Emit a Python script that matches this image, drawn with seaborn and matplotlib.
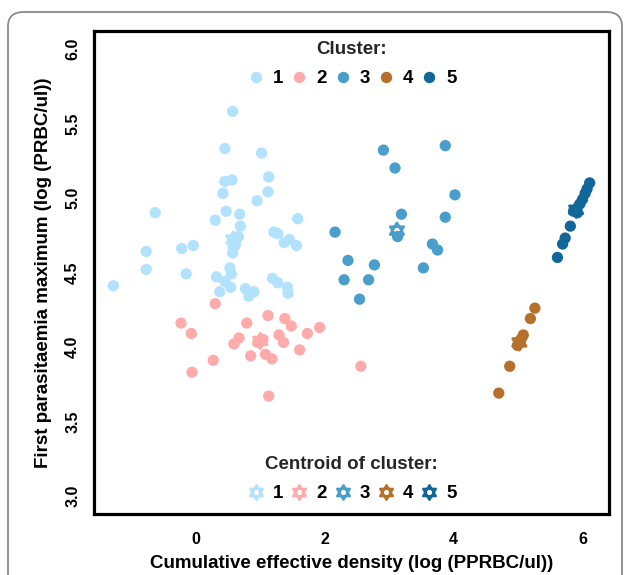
import numpy as np
import pandas as pd
import matplotlib
matplotlib.use("Agg")
import matplotlib.pyplot as plt
import seaborn as sns
from matplotlib.path import Path
from matplotlib.lines import Line2D
from matplotlib.patches import FancyBboxPatch

# ---------------- data ----------------
cluster_labels = ["1", "2", "3", "4", "5"]
cluster_colors = ["#B3E2FF", "#FFABAB", "#4A9ECB", "#B5702B", "#11679A"]

c1_x = [0.57, 0.45, 1.02, 0.45, 0.56, 1.13, 0.42, 1.12, 0.95, -0.63, 0.47, 0.68,
        0.30, 1.58, 0.69, 1.21, 1.27, 0.60, 0.66, 1.37, 1.45, 1.56, -0.22, -0.04,
        -0.77, 0.58, 0.57, 0.61, -0.77, -0.15, 0.53, 0.55, 0.32, 0.45, 0.54, -1.28,
        0.37, 0.77, 0.90, 0.82, 1.19, 1.27, 1.42, 1.43]
c1_y = [5.58, 5.33, 5.30, 5.11, 5.12, 5.14, 5.03, 5.04, 4.98, 4.90, 4.91, 4.89,
        4.85, 4.86, 4.81, 4.77, 4.76, 4.73, 4.74, 4.70, 4.72, 4.68, 4.66, 4.68,
        4.64, 4.67, 4.63, 4.68, 4.52, 4.49, 4.53, 4.49, 4.47, 4.44, 4.40, 4.41,
        4.37, 4.39, 4.37, 4.34, 4.46, 4.43, 4.40, 4.36]

c2_x = [0.30, -0.23, -0.07, 0.79, 1.12, 1.38, 1.48, 1.73, 1.92, 0.67, 0.59,
        1.29, 1.36, 0.85, 1.08, 1.18, 1.61, 0.27, -0.06, 1.13, 2.56, 0.96, 1.04]
c2_y = [4.29, 4.16, 4.09, 4.16, 4.21, 4.19, 4.14, 4.09, 4.13, 4.06, 4.02,
        4.08, 4.03, 3.94, 3.95, 3.92, 3.98, 3.91, 3.83, 3.67, 3.87, 4.03, 4.05]

c3_x = [2.91, 3.87, 3.09, 4.02, 3.19, 3.87, 2.16, 3.13, 3.67, 3.75, 2.36, 2.77,
        3.53, 2.30, 2.68, 2.54]
c3_y = [5.32, 5.35, 5.20, 5.02, 4.89, 4.87, 4.77, 4.74, 4.69, 4.65, 4.58, 4.55,
        4.53, 4.45, 4.45, 4.32]

c4_x = [5.26, 5.19, 5.08, 4.99, 4.87, 4.70, 5.04]
c4_y = [4.26, 4.19, 4.08, 4.01, 3.87, 3.69, 4.05]

c5_x = [6.11, 6.07, 6.04, 6.00, 5.96, 5.92, 5.86, 5.81, 5.73, 5.69, 5.61]
c5_y = [5.10, 5.06, 5.03, 4.99, 4.96, 4.90, 4.91, 4.81, 4.73, 4.69, 4.60]

centroid_x = [0.58, 1.00, 3.12, 5.02, 5.90]
centroid_y = [4.72, 4.04, 4.78, 4.03, 4.92]

x_ticks = [0, 2, 4, 6]
y_ticks = [3.0, 3.5, 4.0, 4.5, 5.0, 5.5, 6.0]

# ---------------- frames ----------------
xs = [c1_x, c2_x, c3_x, c4_x, c5_x]
ys = [c1_y, c2_y, c3_y, c4_y, c5_y]
points = pd.concat(
    [pd.DataFrame({"x": xv, "y": yv, "cluster": lab})
     for xv, yv, lab in zip(xs, ys, cluster_labels)],
    ignore_index=True)
centroids = pd.DataFrame({"x": centroid_x, "y": centroid_y, "cluster": cluster_labels})
palette = dict(zip(cluster_labels, cluster_colors))

# ---------------- style ----------------
sns.set_theme(style="white")
plt.rcParams["font.family"] = ["Liberation Sans", "DejaVu Sans"]
plt.rcParams["font.weight"] = "bold"

# hexagram marker (two overlapping triangles)
up = [(0, 1), (-0.866, -0.5), (0.866, -0.5), (0, 0)]
down = [(0, -1), (0.866, 0.5), (-0.866, 0.5), (0, 0)]
codes = [Path.MOVETO, Path.LINETO, Path.LINETO, Path.CLOSEPOLY] * 2
star = Path(up + down, codes)

fig = plt.figure(figsize=(6.30, 5.75), dpi=100)
ax = fig.add_axes([94 / 630, 1 - 514 / 575, (609 - 94) / 630, (514 - 31) / 575])

sns.scatterplot(data=points, x="x", y="y", hue="cluster", palette=palette,
                hue_order=cluster_labels, s=66, linewidth=0, legend=False, ax=ax)
n_before = len(ax.collections)
sns.scatterplot(data=centroids, x="x", y="y", hue="cluster", palette=palette,
                hue_order=cluster_labels, marker=star, s=125, legend=False, ax=ax)
cc = ax.collections[n_before]
cc.set_edgecolors(cc.get_facecolors())
cc.set_facecolors("none")
cc.set_linewidths(1.9)

ax.set_xlim(-1.58, 6.41)
ax.set_ylim(2.879, 6.119)
ax.set_xticks(x_ticks)
ax.set_xticklabels([str(t) for t in x_ticks], fontsize=11.5, fontweight="bold")
ax.set_yticks(y_ticks)
ax.set_yticklabels([f"{t:.1f}" for t in y_ticks], rotation=90, va="center",
                   fontsize=11.5, fontweight="bold")

for sp in ax.spines.values():
    sp.set_visible(True)
    sp.set_color("black")
    sp.set_linewidth(2.3)

ax.tick_params(axis="both", which="major", direction="out", length=4.5, width=1.1,
               color="black", labelcolor="black")
ax.tick_params(axis="x", pad=8.5)
ax.tick_params(axis="y", pad=5.5)

ax.set_xlabel("Cumulative effective density (log (PPRBC/ul))", fontsize=13.5,
              fontweight="bold", color="black", labelpad=6)
ax.set_ylabel("First parasitaemia maximum (log (PRBC/ul))", fontsize=13.5,
              fontweight="bold", color="black", labelpad=9.5)

# ---------------- legends ----------------
dot_handles = [Line2D([], [], linestyle="", marker="o", markersize=8.2,
                      markerfacecolor=c, markeredgewidth=0) for c in cluster_colors]
star_handles = [Line2D([], [], linestyle="", marker=star, markersize=10.5,
                       markerfacecolor="none", markeredgecolor=c, markeredgewidth=1.7)
                for c in cluster_colors]
leg_kw = dict(ncol=5, frameon=False, prop={"weight": "bold", "size": 13.5},
              title_fontproperties={"weight": "bold", "size": 13.5},
              handlelength=1.0, handletextpad=0.4, columnspacing=0.36,
              labelspacing=0.68, borderaxespad=0.0, labelcolor="black")
leg1 = ax.legend(dot_handles, cluster_labels, title="Cluster:", loc="upper center",
                 bbox_to_anchor=(0.5, 1.0 - 2 / 483), **leg_kw)
ax.add_artist(leg1)
leg2 = ax.legend(star_handles, cluster_labels, title="Centroid of cluster:",
                 loc="lower center", bbox_to_anchor=(0.5, 4 / 483), **leg_kw)

# outer rounded frame
frame = FancyBboxPatch((8 / 630, -0.1), (622 - 8) / 630, 1.1 - 12 / 575,
                       boxstyle="round,pad=0,rounding_size=0.025",
                       transform=fig.transFigure, fill=False,
                       edgecolor="#8a8a8a", linewidth=1.3)
fig.patches.append(frame)

fig.savefig("out.png", dpi=100)
